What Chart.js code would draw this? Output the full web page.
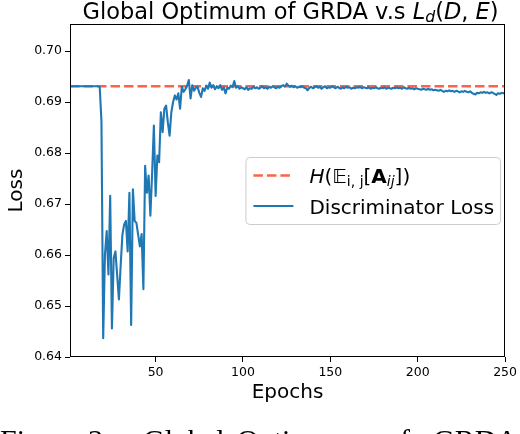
<!DOCTYPE html>
<html><head><meta charset="utf-8">
<script src="https://cdn.jsdelivr.net/npm/chart.js@4.4.1/dist/chart.umd.min.js"></script>
<style>
html,body{margin:0;padding:0;background:#fff;overflow:hidden}
#wrap{position:relative;width:520px;height:434px;overflow:hidden}
#c{position:absolute;left:0;top:0}
#caption{position:absolute;left:0;top:425px;width:520px;height:40px;font:30px/30px "Liberation Serif","Times New Roman",serif;color:#000;white-space:nowrap}
#caption span{position:absolute;top:0}
</style></head>
<body>
<div id="wrap">
  <canvas id="c" width="520" height="434"></canvas>
  <div id="caption"><span style="left:0">Figure</span><span style="left:88px">3:</span><span style="left:143px">Global</span><span style="left:237px">Optimum</span><span style="left:385px">of</span><span style="left:433px">GRDA</span></div>
</div>
<script>
// discriminator loss per epoch (epochs 1..250)
const lossValues = [
  0.6931,0.6931,0.6931,0.6931,0.6931,0.6931,0.6931,0.6931,0.6931,0.6931,
  0.6931,0.6931,0.6931,0.6931,0.6931,0.6931,0.6931,0.6930,0.6862,0.6437,
  0.6601,0.6647,0.6562,0.6716,0.6456,0.6594,0.6607,0.6560,0.6513,0.6580,
  0.6640,0.6660,0.6667,0.6607,0.6722,0.6463,0.6729,0.6667,0.6663,0.6640,
  0.6617,0.6641,0.6533,0.6775,0.6722,0.6756,0.6677,0.6760,0.6854,0.6716,
  0.6795,0.6782,0.6880,0.6841,0.6887,0.6893,0.6860,0.6834,0.6880,0.6900,
  0.6913,0.6905,0.6917,0.6887,0.6930,0.6920,0.6925,0.6932,0.6943,0.6907,
  0.6933,0.6922,0.6928,0.6930,0.6918,0.6910,0.6927,0.6922,0.6932,0.6926,
  0.6938,0.6928,0.6933,0.6925,0.6931,0.6927,0.6933,0.6924,0.6929,0.6917,
  0.6928,0.6926,0.6932,0.6929,0.6941,0.6928,0.6931,0.6926,0.6929,0.6927,
  0.6925,0.6929,0.6924,0.6927,0.6926,0.6930,0.6927,0.6929,0.6926,0.6928,
  0.6931,0.6927,0.6929,0.6926,0.6930,0.6928,0.6931,0.6929,0.6927,0.6930,
  0.6928,0.6931,0.6933,0.6930,0.6936,0.6932,0.6930,0.6932,0.6929,0.6931,
  0.6928,0.6930,0.6929,0.6931,0.6928,0.6927,0.6923,0.6928,0.6930,0.6927,
  0.6929,0.6931,0.6928,0.6930,0.6926,0.6929,0.6931,0.6927,0.6929,0.6928,
  0.6931,0.6929,0.6927,0.6930,0.6928,0.6926,0.6929,0.6927,0.6930,0.6928,
  0.6929,0.6926,0.6928,0.6927,0.6929,0.6928,0.6930,0.6927,0.6929,0.6928,
  0.6927,0.6929,0.6926,0.6928,0.6927,0.6929,0.6927,0.6926,0.6928,0.6927,
  0.6929,0.6926,0.6928,0.6927,0.6926,0.6928,0.6927,0.6929,0.6927,0.6928,
  0.6926,0.6929,0.6927,0.6926,0.6928,0.6926,0.6927,0.6925,0.6927,0.6926,
  0.6925,0.6924,0.6926,0.6925,0.6924,0.6926,0.6924,0.6925,0.6923,0.6924,
  0.6923,0.6922,0.6924,0.6922,0.6920,0.6922,0.6921,0.6923,0.6921,0.6922,
  0.6920,0.6922,0.6921,0.6919,0.6921,0.6920,0.6922,0.6920,0.6919,0.6921,
  0.6918,0.6916,0.6915,0.6918,0.6917,0.6919,0.6918,0.6920,0.6918,0.6919,
  0.6917,0.6919,0.6918,0.6916,0.6914,0.6917,0.6916,0.6918,0.6917,0.6918
];
const refEpochs = [1, 250];
const refLevel = [0.6931, 0.6931];
const xTicks = [50, 100, 150, 200, 250];
const yTicks = [0.64, 0.65, 0.66, 0.67, 0.68, 0.69, 0.70];
const seriesNames = ['H(E_i,j[A_ij])', 'Discriminator Loss'];

const epochs = lossValues.map((_, i) => i + 1);
const FAM = '"DejaVu Sans", sans-serif';

// rich text: runs of {t, i(talic), b(old), sub}
function runFont(r, size){ return (r.i?'italic ':'')+(r.b?'bold ':'')+(r.sub?size*0.7:size)+'px '+FAM }
function runsWidth(ctx, runs, size){
  let w=0; runs.forEach(r=>{ ctx.font=runFont(r,size); r.w=ctx.measureText(r.t).width; w+=r.w; }); return w;
}
function drawRuns(ctx, runs, x, y, size){
  runsWidth(ctx, runs, size);
  ctx.textAlign='left'; ctx.textBaseline='alphabetic'; ctx.fillStyle='#000';
  runs.forEach(r=>{ ctx.font=runFont(r,size); ctx.fillText(r.t, x, y+(r.sub?size*0.15:0)); x+=r.w; });
}

const titleRuns = [{t:'Global Optimum of GRDA v.s '},{t:'L',i:1},{t:'d',i:1,sub:1},{t:'('},{t:'D',i:1},{t:', '},{t:'E',i:1},{t:')'}];
const legendRuns = [
  [{t:'H',i:1},{t:'('},{t:'\u{1D53C}'},{t:'i, j',sub:1},{t:'['},{t:'A',b:1},{t:'ij',i:1,sub:1},{t:']'},{t:')'}],
  [{t:seriesNames[1]}]
];

const framePlugin = {
  id:'frame',
  afterDatasetsDraw(chart){
    const {ctx, chartArea:a} = chart;
    ctx.save(); ctx.strokeStyle='#000'; ctx.lineWidth=1;
    ctx.strokeRect(Math.round(a.left)+0.5, Math.round(a.top)+0.5, Math.round(a.right-a.left)-1, Math.round(a.bottom-a.top)-1);
    ctx.restore();
  }
};

const titlePlugin = {
  id:'mtitle',
  afterDraw(chart){
    const {ctx, chartArea:a} = chart;
    ctx.save();
    const w = runsWidth(ctx, titleRuns, 22.5);
    drawRuns(ctx, titleRuns, (a.left+a.right)/2 - w/2 + 3, 18.5, 22.5);
    ctx.restore();
  }
};

const legendPlugin = {
  id:'mlegend',
  afterDraw(chart){
    const {ctx, chartArea:a} = chart;
    const size=20;
    ctx.save();
    const tw = Math.max(...legendRuns.map(r=>runsWidth(ctx, r, size)));
    const bw = 8+56+tw+6, bh = 67;
    const bx = a.right-5-bw, by = (a.top+a.bottom)/2 - bh/2;
    ctx.beginPath(); ctx.roundRect(bx+0.5, by+0.5, bw, bh, 4);
    ctx.fillStyle='rgba(255,255,255,0.8)'; ctx.fill();
    ctx.strokeStyle='#cccccc'; ctx.lineWidth=1; ctx.stroke();
    const ds = chart.data.datasets;
    [0,1].forEach(k=>{
      const d = ds[k], base = by + 26 + k*30.5;
      ctx.beginPath(); ctx.strokeStyle=d.borderColor; ctx.lineWidth=d.borderWidth;
      ctx.setLineDash(d.borderDash||[]);
      ctx.moveTo(bx+8, base-7.5); ctx.lineTo(bx+48, base-7.5); ctx.stroke();
      ctx.setLineDash([]);
      drawRuns(ctx, legendRuns[k], bx+64, base, size);
    });
    ctx.restore();
  }
};

new Chart(document.getElementById('c'), {
  type:'line',
  data:{datasets:[
    {label:seriesNames[0], data:refEpochs.map((x,i)=>({x, y:refLevel[i]})), borderColor:'#ff6347', borderWidth:2.5, borderDash:[9.5,4], pointRadius:0, order:2},
    {label:seriesNames[1], data:epochs.map((x,i)=>({x, y:lossValues[i]})), borderColor:'#1f77b4', borderWidth:2.1, borderJoinStyle:'round', pointRadius:0, order:1}
  ]},
  options:{
    responsive:false, animation:false, devicePixelRatio:1,
    layout:{padding:{top:24, right:12, left:0, bottom:0}},
    plugins:{legend:{display:false}, tooltip:{enabled:false}, title:{display:false}},
    scales:{
      x:{type:'linear', min:1, max:250,
        afterBuildTicks:s=>{ s.ticks = xTicks.map(v=>({value:v})); },
        afterFit:s=>{ s.height = 77; },
        grid:{drawOnChartArea:false, drawTicks:true, tickLength:5, color:'#000', lineWidth:1},
        border:{display:false},
        ticks:{color:'#000', font:{family:FAM, size:12.5}, padding:3, autoSkip:false, maxRotation:0, callback:v=>String(v)},
        title:{display:true, text:'Epochs', color:'#000', font:{family:FAM, size:20}, padding:{top:0, bottom:29}}
      },
      y:{type:'linear', min:0.64, max:0.7053,
        afterBuildTicks:s=>{ s.ticks = yTicks.map(v=>({value:v})); },
        afterFit:s=>{ s.width = 70; },
        grid:{drawOnChartArea:false, drawTicks:true, tickLength:5, color:'#000', lineWidth:1},
        border:{display:false},
        ticks:{color:'#000', font:{family:FAM, size:12.5}, padding:3, autoSkip:false, callback:v=>v.toFixed(2)},
        title:{display:true, text:'Loss', color:'#000', font:{family:FAM, size:20}, padding:{top:5, bottom:0}}
      }
    }
  },
  plugins:[framePlugin, titlePlugin, legendPlugin]
});
</script>
</body></html>
